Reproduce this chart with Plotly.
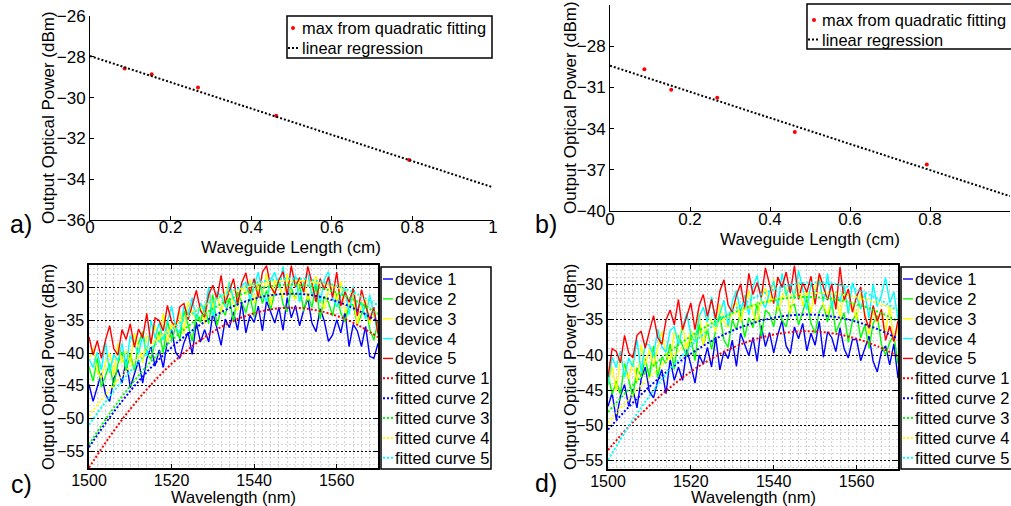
import plotly.graph_objects as go

FONT = "Liberation Sans, Arial, Helvetica, sans-serif"

# ---------------- panel a / b data ----------------
length_cm = [0.086, 0.153, 0.268, 0.462, 0.792]
a_max = [-28.57, -28.86, -29.50, -30.89, -33.06]
b_max = [-29.67, -31.18, -31.75, -34.25, -36.62]
reg_x = [0.0, 1.0]
a_reg = [-27.96, -34.40]
b_reg = [-29.42, -38.92]

# ---------------- panel c / d data ----------------
wl = list(range(1500, 1571))          # 1 nm sampling of the spectra
wl_fit = list(range(1500, 1571, 5))   # 5 nm sampling of fitted curves

c_dev1 = [-44.8, -47.4, -45.2, -43.1, -46.3, -47.4, -43.9, -42.5, -44.6, -41.0,
          -45.3, -43.3, -41.1, -44.6, -40.9, -39.0, -42.0, -39.5, -42.2, -38.1,
          -36.4, -39.9, -40.8, -38.4, -36.8, -40.2, -35.3, -38.3, -36.4, -38.3,
          -33.9, -36.2, -38.8, -34.8, -36.1, -33.7, -36.5, -32.2, -36.9, -34.2,
          -35.3, -32.8, -36.6, -32.0, -33.8, -35.4, -33.0, -36.5, -31.5, -34.6,
          -32.7, -35.8, -33.4, -31.6, -35.4, -36.7, -33.2, -35.1, -38.2, -37.2,
          -34.9, -36.9, -33.7, -39.0, -35.6, -36.6, -39.0, -35.9, -40.5, -40.8,
          -38.5]
c_dev2 = [-42.1, -44.3, -40.8, -45.2, -43.5, -41.6, -45.2, -41.6, -39.8, -42.7,
          -40.1, -42.7, -38.5, -36.7, -40.1, -40.9, -38.4, -36.7, -40.0, -35.0,
          -37.9, -36.0, -37.9, -33.5, -35.7, -38.2, -34.1, -35.3, -32.8, -35.5,
          -31.1, -35.8, -33.1, -34.2, -31.6, -35.3, -30.6, -32.3, -33.8, -31.2,
          -34.5, -29.4, -32.4, -30.4, -33.3, -30.7, -28.8, -32.5, -33.7, -30.0,
          -31.7, -29.6, -33.6, -31.2, -33.0, -29.6, -34.8, -31.3, -32.2, -34.3,
          -30.9, -33.9, -35.2, -32.6, -32.6, -35.6, -34.0, -32.5, -36.3, -38.0,
          -35.2]
c_dev3 = [-40.8, -39.2, -42.8, -43.8, -41.5, -40.0, -43.4, -38.5, -41.5, -39.6,
          -41.5, -37.0, -39.1, -41.5, -37.3, -38.4, -35.8, -38.4, -33.9, -38.4,
          -35.5, -36.4, -33.6, -37.1, -32.2, -33.7, -35.1, -32.4, -35.6, -30.3,
          -33.1, -31.0, -33.8, -31.1, -29.0, -32.5, -33.5, -29.6, -31.1, -28.7,
          -32.4, -29.8, -31.4, -27.8, -32.7, -28.9, -29.6, -31.5, -27.9, -30.7,
          -31.8, -29.1, -29.0, -31.9, -30.0, -28.2, -31.8, -33.3, -30.3, -29.4,
          -32.0, -29.0, -33.9, -32.7, -31.3, -35.6, -32.8, -31.8, -35.5, -33.7,
          -37.1]
c_dev4 = [-40.9, -42.2, -39.8, -42.6, -38.3, -43.0, -40.2, -41.2, -38.5, -42.1,
          -37.3, -38.8, -40.1, -37.3, -40.4, -35.0, -37.7, -35.4, -38.0, -35.1,
          -32.8, -36.1, -36.9, -32.8, -34.1, -31.5, -35.1, -32.3, -33.7, -29.9,
          -34.6, -30.7, -31.2, -32.9, -29.1, -31.7, -32.6, -29.6, -29.2, -31.8,
          -29.6, -27.6, -30.9, -32.1, -28.8, -27.6, -30.0, -26.7, -31.3, -29.8,
          -28.1, -32.2, -29.1, -27.8, -31.2, -29.1, -32.3, -28.7, -27.5, -31.5,
          -32.9, -31.1, -30.1, -34.1, -29.8, -33.4, -32.2, -34.8, -31.1, -34.0,
          -37.2]
c_dev5 = [-37.5, -40.3, -38.1, -40.8, -38.0, -35.8, -39.3, -40.3, -36.4, -37.9,
          -35.5, -39.1, -36.3, -37.7, -33.9, -38.6, -34.6, -35.0, -36.6, -32.7,
          -35.2, -36.0, -32.9, -32.4, -34.9, -32.6, -30.4, -33.5, -34.5, -31.0,
          -29.6, -31.7, -28.1, -32.4, -30.6, -28.6, -32.5, -29.2, -27.7, -30.9,
          -28.6, -31.5, -27.6, -26.6, -29.8, -30.9, -28.8, -27.5, -31.2, -26.6,
          -29.9, -28.4, -30.7, -26.7, -29.3, -32.2, -28.6, -30.3, -28.3, -31.5,
          -27.6, -32.8, -30.6, -32.2, -30.1, -34.3, -30.3, -32.7, -34.9, -33.0,
          -37.0]

c_fit1 = [-57.55, -52.81, -48.57, -44.85, -41.64, -38.94, -36.74, -35.06,
          -33.89, -33.22, -33.07, -33.43, -34.29, -35.67, -37.56]
c_fit2 = [-54.42, -49.86, -45.80, -42.22, -39.13, -36.53, -34.43, -32.81,
          -31.68, -31.05, -30.90, -31.24, -32.08, -33.40, -35.21]
c_fit3 = [-53.99, -49.25, -45.01, -41.29, -38.08, -35.38, -33.18, -31.50,
          -30.33, -29.66, -29.51, -29.87, -30.73, -32.11, -34.00]
c_fit4 = [-49.60, -45.59, -42.00, -38.85, -36.13, -33.84, -31.98, -30.55,
          -29.56, -29.00, -28.87, -29.17, -29.91, -31.07, -32.67]
c_fit5 = [-51.00, -46.65, -42.78, -39.37, -36.42, -33.95, -31.94, -30.40,
          -29.33, -28.72, -28.58, -28.91, -29.70, -30.96, -32.69]

d_dev1 = [-47.3, -45.4, -49.2, -45.8, -44.2, -47.3, -44.8, -47.5, -43.4, -41.7,
          -45.2, -46.1, -43.7, -42.1, -45.5, -40.6, -43.6, -41.7, -43.6, -39.2,
          -41.4, -44.0, -40.0, -41.3, -38.9, -41.7, -37.4, -42.1, -39.4, -40.5,
          -37.9, -41.6, -36.9, -38.6, -40.1, -37.5, -40.9, -35.8, -38.8, -36.8,
          -39.7, -37.1, -35.1, -38.7, -39.8, -36.0, -37.7, -35.5, -39.4, -36.9,
          -38.6, -35.2, -40.3, -36.7, -37.5, -39.5, -36.1, -39.1, -40.4, -37.8,
          -37.8, -40.8, -39.0, -37.3, -40.9, -42.4, -39.5, -38.7, -41.4, -38.4,
          -43.3]
d_dev2 = [-42.6, -45.6, -43.7, -45.6, -41.2, -43.4, -45.9, -41.8, -43.0, -40.5,
          -43.2, -38.7, -43.2, -40.3, -41.2, -38.4, -42.0, -37.2, -38.8, -40.2,
          -37.5, -40.8, -35.6, -38.5, -36.4, -39.2, -36.5, -34.4, -37.9, -38.9,
          -35.0, -36.4, -33.9, -37.5, -34.7, -36.1, -32.5, -37.4, -33.6, -34.2,
          -36.0, -32.3, -35.0, -36.0, -33.1, -32.8, -35.7, -33.8, -32.0, -35.5,
          -36.9, -33.8, -32.8, -35.3, -32.1, -36.8, -35.5, -34.0, -38.2, -35.2,
          -34.0, -37.6, -35.7, -39.0, -35.5, -34.4, -38.5, -40.0, -38.2, -37.2,
          -41.2]
d_dev3 = [-44.3, -41.6, -45.2, -40.4, -42.0, -43.4, -40.7, -43.9, -38.6, -41.4,
          -39.2, -41.8, -38.9, -36.6, -39.9, -40.7, -36.7, -38.1, -35.6, -39.2,
          -36.4, -37.8, -34.0, -38.7, -34.7, -35.1, -36.7, -32.8, -35.3, -36.1,
          -33.0, -32.6, -35.2, -33.0, -30.9, -34.1, -35.2, -31.8, -30.5, -32.7,
          -29.2, -33.7, -32.1, -30.3, -34.2, -30.9, -29.6, -33.0, -30.9, -34.0,
          -30.3, -29.0, -32.9, -34.2, -32.2, -31.0, -34.9, -30.5, -34.0, -32.6,
          -35.0, -31.2, -34.0, -37.1, -33.6, -35.4, -33.5, -36.8, -33.0, -38.2,
          -36.0]
d_dev4 = [-44.2, -40.3, -41.8, -39.4, -43.1, -40.4, -41.7, -37.8, -42.4, -38.3,
          -38.6, -40.2, -36.3, -38.8, -39.6, -36.5, -36.0, -38.5, -36.2, -34.0,
          -37.1, -38.1, -34.6, -33.2, -35.3, -31.7, -36.0, -34.2, -32.2, -35.9,
          -32.4, -30.8, -33.9, -31.5, -34.3, -30.3, -28.7, -32.3, -33.3, -31.0,
          -29.5, -33.1, -28.4, -31.6, -29.9, -32.0, -28.0, -30.6, -33.5, -29.8,
          -31.4, -29.3, -32.4, -28.4, -33.4, -31.0, -32.4, -30.1, -34.1, -29.7,
          -31.7, -33.5, -31.2, -34.8, -29.9, -33.1, -31.5, -29.0, -32.6, -31.0,
          -35.0]
d_dev5 = [-43.1, -39.1, -39.5, -41.1, -37.2, -39.7, -40.4, -37.2, -36.6, -39.0,
          -36.6, -34.4, -37.5, -38.5, -35.0, -33.6, -35.7, -32.1, -36.4, -34.6,
          -32.6, -36.4, -33.0, -31.4, -34.5, -32.1, -34.9, -30.9, -29.3, -32.9,
          -33.9, -31.5, -29.9, -33.3, -28.4, -31.4, -29.7, -31.8, -27.6, -30.0,
          -32.7, -28.9, -30.4, -28.2, -31.2, -27.3, -32.1, -29.7, -31.1, -28.8,
          -32.8, -28.4, -30.4, -32.2, -29.9, -33.5, -27.5, -32.2, -30.6, -33.9,
          -31.7, -30.3, -34.5, -36.2, -33.0, -35.2, -33.5, -37.9, -35.9, -38.1,
          -35.1]

d_fit1 = [-53.51, -50.17, -47.20, -44.60, -42.37, -40.50, -38.99, -37.86,
          -37.09, -36.69, -36.65, -36.98, -37.68, -38.74, -40.17]
d_fit2 = [-50.61, -47.38, -44.50, -41.98, -39.82, -38.01, -36.55, -35.45,
          -34.70, -34.31, -34.28, -34.60, -35.27, -36.30, -37.69]
d_fit3 = [-48.11, -44.88, -42.00, -39.48, -37.32, -35.51, -34.05, -32.95,
          -32.20, -31.81, -31.78, -32.10, -32.77, -33.80, -35.19]
d_fit4 = [-49.65, -46.20, -43.12, -40.38, -38.00, -35.98, -34.31, -33.00,
          -32.04, -31.44, -31.19, -31.29, -31.76, -32.57, -33.74]
d_fit5 = [-54.92, -50.12, -45.83, -42.04, -38.76, -35.98, -33.71, -31.94,
          -30.68, -29.92, -29.67, -29.92, -30.68, -31.94, -33.71]

dev_names = ["device 1", "device 2", "device 3", "device 4", "device 5"]
fit_names = ["fitted curve 1", "fitted curve 2", "fitted curve 3",
             "fitted curve 4", "fitted curve 5"]
dev_colors = ["#0000FF", "#00FF00", "#FFFF00", "#00FFFF", "#FF0000"]
fit_colors = ["#FF0000", "#0000FF", "#00FF00", "#FFFF00", "#00FFFF"]
ab_legend = ["max from quadratic fitting", "linear regression"]

W, H = 1011, 506
DOT = "2px,2px"
fig = go.Figure()

# ---- panels a and b ----
for (ymax, yreg, xa, ya) in [(a_max, a_reg, "x", "y"), (b_max, b_reg, "x2", "y2")]:
    fig.add_trace(go.Scatter(x=length_cm, y=ymax, mode="markers",
                             marker=dict(color="#FF0000", size=4),
                             name=ab_legend[0], xaxis=xa, yaxis=ya, showlegend=False))
    fig.add_trace(go.Scatter(x=reg_x, y=yreg, mode="lines",
                             line=dict(color="black", width=2, dash=DOT),
                             name=ab_legend[1], xaxis=xa, yaxis=ya, showlegend=False))

# ---- panels c and d ----
for devs, fits, xa, ya in [([c_dev1, c_dev2, c_dev3, c_dev4, c_dev5],
                            [c_fit1, c_fit2, c_fit3, c_fit4, c_fit5], "x3", "y3"),
                           ([d_dev1, d_dev2, d_dev3, d_dev4, d_dev5],
                            [d_fit1, d_fit2, d_fit3, d_fit4, d_fit5], "x4", "y4")]:
    for i in range(5):
        fig.add_trace(go.Scatter(x=wl, y=devs[i], mode="lines",
                                 line=dict(color=dev_colors[i], width=1.4),
                                 name=dev_names[i], xaxis=xa, yaxis=ya, showlegend=False))
    for i in range(5):
        fig.add_trace(go.Scatter(x=wl_fit, y=fits[i], mode="lines",
                                 line=dict(color=fit_colors[i], width=2,
                                           dash=DOT, shape="spline"),
                                 name=fit_names[i], xaxis=xa, yaxis=ya, showlegend=False))


def dom_x(x0, x1):
    return [x0 / W, x1 / W]


def dom_y(top, bottom):
    return [1 - bottom / H, 1 - top / H]


def px(x):
    return x / W


def py(y):
    return 1 - y / H


tick_ab = dict(family=FONT, size=17, color="black")
tick_cd = dict(family=FONT, size=16, color="black")

open_axis = dict(showline=True, linecolor="black", linewidth=1, ticks="inside",
                 ticklen=4, tickcolor="black", showgrid=False, zeroline=False,
                 tickfont=tick_ab, mirror=False, automargin=False)

box_axis = dict(showline=True, linecolor="black", linewidth=1.5, ticks="inside",
                ticklen=4, tickcolor="black", zeroline=False, tickfont=tick_cd,
                mirror="ticks", automargin=False)

GL = "#d6d6d6"
xgrid = dict(showgrid=True, gridcolor=GL, gridwidth=1, griddash=DOT,
             minor=dict(dtick=2, tick0=1500, showgrid=True, gridcolor=GL,
                        gridwidth=1, griddash=DOT, ticks=""))
ygrid = dict(showgrid=True, gridcolor="#000000", gridwidth=1, griddash=DOT,
             minor=dict(dtick=1, tick0=-30, showgrid=True, gridcolor=GL,
                        gridwidth=1, griddash=DOT, ticks=""))

fig.update_layout(
    width=W, height=H,
    margin=dict(l=0, r=0, t=0, b=0, autoexpand=False),
    paper_bgcolor="white", plot_bgcolor="white",
    font=dict(family=FONT, size=16, color="black"),
    showlegend=False,
    xaxis=dict(domain=dom_x(90, 493), anchor="y", range=[0, 1],
               tickvals=[0, 0.2, 0.4, 0.6, 0.8, 1], ticklabelstandoff=-8, **open_axis),
    yaxis=dict(domain=dom_y(16, 220), anchor="x", range=[-36, -26],
               tickvals=[-36, -34, -32, -30, -28, -26], **open_axis),
    xaxis2=dict(domain=dom_x(610, 1010), anchor="y2", range=[0, 1],
                tickvals=[0, 0.2, 0.4, 0.6, 0.8, 1], ticklabelstandoff=-7, **open_axis),
    yaxis2=dict(domain=dom_y(5, 211), anchor="x2", range=[-40, -25],
                tickvals=[-40, -37, -34, -31, -28], **open_axis),
    xaxis3=dict(domain=dom_x(89, 378), anchor="y3", range=[1500, 1570],
                tickvals=[1500, 1520, 1540, 1560], ticklabelstandoff=-3,
                **xgrid, **box_axis),
    yaxis3=dict(domain=dom_y(265, 468), anchor="x3", range=[-57.6, -26.5],
                tickvals=[-55, -50, -45, -40, -35, -30], **ygrid, **box_axis),
    xaxis4=dict(domain=dom_x(608, 898), anchor="y4", range=[1500, 1570],
                tickvals=[1500, 1520, 1540, 1560], ticklabelstandoff=-3,
                **xgrid, **box_axis),
    yaxis4=dict(domain=dom_y(265, 469), anchor="x4", range=[-56.2, -27.2],
                tickvals=[-55, -50, -45, -40, -35, -30], **ygrid, **box_axis),
)

shapes = []
annos = []


def text(t, x, y, size, angle=0, xanchor="left"):
    annos.append(dict(text=t, x=px(x), y=py(y), xref="paper", yref="paper",
                      showarrow=False, xanchor=xanchor, yanchor="middle",
                      textangle=angle, borderpad=0,
                      font=dict(family=FONT, size=size, color="black")))


# axis titles
text("Output Optical Power (dBm)", 48, 118, 17, -90, "center")
text("Output Optical Power (dBm)", 570, 108, 17, -90, "center")
text("Output Optical Power (dBm)", 48, 367, 16.5, -90, "center")
text("Output Optical Power (dBm)", 570, 367, 16.5, -90, "center")
text("Waveguide Length (cm)", 291, 247, 17, 0, "center")
text("Waveguide Length (cm)", 810, 240, 17, 0, "center")
text("Wavelength (nm)", 233, 497, 16.5, 0, "center")
text("Wavelength (nm)", 753, 497, 16.5, 0, "center")

# panel letters
for t, xp, yp in [("a)", 21, 224), ("b)", 546, 224), ("c)", 21, 484), ("d)", 546, 483)]:
    text(t, xp, yp, 25, 0, "center")


def legend_box(x0, x1, y0, y1):
    shapes.append(dict(type="rect", xref="paper", yref="paper",
                       x0=px(x0), x1=px(x1), y0=py(y1), y1=py(y0),
                       line=dict(color="black", width=1.5), fillcolor="white",
                       layer="above"))


def legend_line(x0, x1, y, color, dash, width):
    shapes.append(dict(type="line", xref="paper", yref="paper",
                       x0=px(x0), x1=px(x1), y0=py(y), y1=py(y),
                       line=dict(color=color, width=width, dash=dash), layer="above"))


def legend_dot(x, y, color):
    shapes.append(dict(type="circle", xref="paper", yref="paper",
                       x0=px(x - 2), x1=px(x + 2), y0=py(y + 2), y1=py(y - 2),
                       line=dict(color=color, width=0), fillcolor=color, layer="above"))


# legend a / b
for (bx0, bx1, by0, by1, rows, dotx, lx0, lx1, tx) in [
        (287, 492, 16, 58, (28, 48), 293, 288, 300, 301),
        (807, 1030, 4, 49, (20, 39.5), 814, 808, 820, 821)]:
    legend_box(bx0, bx1, by0, by1)
    legend_dot(dotx, rows[0], "#FF0000")
    text(ab_legend[0], tx, rows[0], 16.4)
    legend_line(lx0, lx1, rows[1], "black", DOT, 2)
    text(ab_legend[1], tx, rows[1], 16.4)

# legend c / d
for (bx0, bx1, sx0, sx1, tx) in [(381, 491, 383, 393, 394), (901, 1030, 903, 913, 914)]:
    legend_box(bx0, bx1, 267, 469)
    for i in range(10):
        yrow = 279 + 19.86 * i
        if i < 5:
            legend_line(sx0, sx1, yrow, dev_colors[i], "solid", 1.4)
            text(dev_names[i], tx, yrow, 16.5)
        else:
            legend_line(sx0, sx1, yrow, fit_colors[i - 5], DOT, 2)
            text(fit_names[i - 5], tx, yrow, 16.5)

fig.update_layout(shapes=shapes, annotations=annos)
fig.write_html("out.html")
